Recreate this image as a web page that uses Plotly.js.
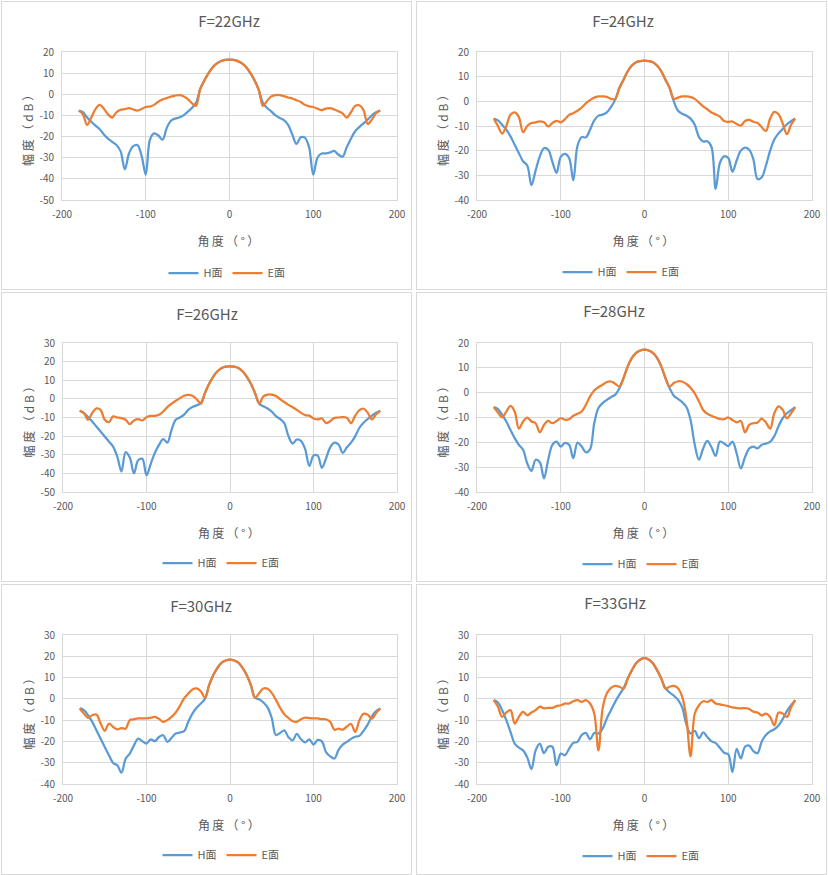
<!DOCTYPE html>
<html><head><meta charset="utf-8">
<script src="https://cdn.plot.ly/plotly-3.0.1.min.js"></script>
<style>
body{margin:0;background:#fff;width:828px;height:875px;position:relative;overflow:hidden;font-family:"Noto Sans CJK SC",sans-serif}
.cell{position:absolute}
.frame{position:absolute;border:1px solid #d9d9d9;box-sizing:border-box;pointer-events:none}
</style></head><body>
<div id="p1" class="cell" style="left:0;top:0;width:414px;height:291px"></div>
<div id="p2" class="cell" style="left:414px;top:0;width:414px;height:291px"></div>
<div id="p3" class="cell" style="left:0;top:291px;width:414px;height:291px"></div>
<div id="p4" class="cell" style="left:414px;top:291px;width:414px;height:291px"></div>
<div id="p5" class="cell" style="left:0;top:582px;width:414px;height:293px"></div>
<div id="p6" class="cell" style="left:414px;top:582px;width:414px;height:293px"></div>
<div class="frame" style="left:1px;top:1px;width:411px;height:289px"></div>
<div class="frame" style="left:416px;top:1px;width:411px;height:289px"></div>
<div class="frame" style="left:1px;top:292px;width:411px;height:290px"></div>
<div class="frame" style="left:416px;top:292px;width:411px;height:290px"></div>
<div class="frame" style="left:1px;top:584px;width:411px;height:291px"></div>
<div class="frame" style="left:416px;top:584px;width:411px;height:291px"></div>
<script>
// angle (deg)
const angles = [-180,-175,-170,-165,-160,-155,-150,-145,-140,-135,-130,-125,-120,-115,-110,-105,-100,-95,-90,-85,-80,-75,-70,-65,-60,-55,-50,-45,-40,-35,-30,-25,-20,-15,-10,-5,0,5,10,15,20,25,30,35,40,45,50,55,60,65,70,75,80,85,90,95,100,105,110,115,120,125,130,135,140,145,150,155,160,165,170,175,180];

const seriesNames = ['H面','E面'];
const titles = ['F=22GHz','F=24GHz','F=26GHz','F=28GHz','F=30GHz','F=33GHz'];
const xAxisTitle = '角度（°）';
const yAxisTitle = '幅度（dB）';
const xTickVals = [-200,-100,0,100,200];
const xTickText = ['-200','-100','0','100','200'];
const yTicks50_20 = [-50,-40,-30,-20,-10,0,10,20];
const yTicks40_20 = [-40,-30,-20,-10,0,10,20];
const yTicks50_30 = [-50,-40,-30,-20,-10,0,10,20,30];
const yTicks40_30 = [-40,-30,-20,-10,0,10,20,30];

const h22 = [-7.7,-8.5,-11,-13,-14.8,-16.5,-19,-21,-22.5,-24,-27,-35.5,-28,-24.5,-24,-29,-38,-21.5,-18.5,-19.5,-21.5,-16,-12.5,-11.5,-11,-10,-8.3,-6.5,-4,2.5,6.5,10,12.8,14.6,15.7,16.3,16.4,
 16.3,15.7,14.6,12.8,10,6.5,2,-4.2,-6.5,-8.2,-10,-11.2,-12.2,-14.5,-19,-23.5,-20.3,-20.5,-25,-38,-30,-28,-28,-27.5,-26.8,-28.5,-29.5,-25,-21,-17.5,-15.5,-13.8,-12,-10,-8.5,-7.7];
const e22 = [-7.7,-9.5,-14.5,-11,-7,-5,-6.8,-9.5,-11,-8.5,-7.3,-7,-6.6,-7.2,-7.7,-7,-6,-5.8,-5,-3.5,-2.5,-1.8,-1.1,-0.6,-0.4,-0.9,-2.2,-4.2,-5.5,2.5,6.5,10,12.8,14.6,15.7,16.3,16.4,
 16.3,15.7,14.6,12.8,10,6.5,2,-5.5,-3,-1,-0.4,-0.4,-0.9,-1.5,-2,-2.8,-3.6,-5,-5.7,-6,-6.8,-7.5,-6.8,-6.6,-7.2,-8,-9,-11,-8.5,-5.5,-5.2,-7.5,-14,-12,-9,-7.7];

const h24 = [-7,-7.7,-9.5,-11.5,-14.2,-17.6,-21,-24.3,-26,-34,-28,-22.3,-19,-19.6,-24.5,-29,-22.5,-21.3,-23,-32,-18,-14.5,-14.6,-11.5,-7.7,-5.8,-5.4,-4.5,-2.3,0.7,5.4,8.8,12.2,14.5,15.8,16.3,16.5,
 16.3,15.8,14.5,12.2,8.8,5.4,0,-3.8,-5,-5.8,-7,-9.5,-14.5,-16.3,-16.2,-18.5,-35.5,-25,-22.3,-23,-28.5,-24,-20,-18.8,-19.6,-23.5,-31.5,-30.8,-26,-20,-15.5,-13,-11.2,-9.3,-8,-7];
const e24 = [-7,-10,-13.1,-10,-5.4,-4.5,-6.4,-12.5,-10,-8.8,-8.5,-8.1,-8.5,-10.2,-8.8,-7.9,-8.5,-7.3,-5.5,-4.8,-3.8,-2.5,-0.8,0.5,1.5,2,2,1.8,1,1,5.4,8.8,12.2,14.5,15.8,16.3,16.5,
 16.3,15.8,14.5,12.2,8.8,5.4,1,1.5,2,2,1.7,1,-0.5,-2,-3.2,-4.5,-5.3,-6.2,-8,-8.3,-8.2,-9.2,-9.8,-8,-7.5,-8.3,-8.8,-10.5,-12,-7,-4.3,-5.2,-9,-13.3,-9.5,-7];

const h26 = [-6.4,-7.6,-9.8,-12.1,-14.8,-17.5,-20.2,-22.9,-25.6,-31,-39,-28.6,-31.5,-40,-33,-32.2,-41,-35,-29,-24.7,-21.6,-23.5,-16.6,-11.2,-10,-8.5,-5.9,-4.4,-3.5,-2.3,3.1,8.1,12,14.8,16.6,17.3,17.5,
 17.3,16.6,14.8,12,8.1,3.1,-2.6,-4,-5.2,-6.8,-9.3,-10.8,-13,-20,-24,-21.8,-22.5,-27,-36,-30.5,-30.5,-37,-32,-26,-23.5,-24.5,-29,-26,-23.5,-20,-15.5,-12.8,-10.8,-9,-7.5,-6.4];
const e26 = [-6.4,-7.6,-11.2,-7.6,-5.1,-5.9,-11.2,-12.5,-9.4,-10,-10.3,-11.2,-13.6,-11.6,-10.9,-11.6,-9.8,-9.1,-9.1,-8.5,-6.8,-4.4,-2.6,-1,0.4,1.7,2.2,1.7,-0.1,-2.6,3.1,8.1,12,14.8,16.6,17.3,17.5,
 17.3,16.6,14.8,12,8.1,3.1,-2.5,1.3,2.3,2.3,1.5,-0.1,-1.7,-3.2,-4.5,-5.9,-7.5,-8.7,-9,-10.5,-11,-10.5,-13,-12,-10.2,-10,-9.8,-10.2,-13,-9,-6,-5.3,-7.5,-11,-8.3,-6.4];

const h28 = [-5.8,-6.6,-8.9,-11.6,-15,-18.3,-21,-23,-28.5,-31.5,-27,-28,-34.5,-27,-21,-19.7,-21.7,-20.2,-21,-26.4,-20.1,-21.7,-24,-22.8,-12.3,-6.2,-4.2,-2.9,-1.8,-0.8,1.8,5.9,10.6,14,16,17,17.3,
 17,16,14,10.6,5.9,1.8,-1.2,-2.5,-3.8,-5.8,-11,-21,-27,-22.5,-19.4,-22,-25.5,-19.7,-20.5,-21.5,-19.7,-24.4,-30.5,-26,-22.5,-21.7,-22.4,-21,-20.5,-19.8,-17.5,-13.5,-10.3,-8.3,-7,-5.8];
const e28 = [-5.8,-8,-9.9,-7.6,-5.3,-7.6,-14.5,-11.6,-10,-11.6,-12.3,-16,-13,-11.4,-12.3,-11.4,-10.3,-10.9,-10.7,-9.3,-8.5,-7.6,-4.9,-1.5,0.9,2.2,3.2,4.3,4.5,3.6,2.5,5.9,10.6,14,16,17,17.3,
 17,16,14,10.6,5.9,2.5,3.9,4.6,4.5,3.5,2,-0.3,-3.5,-7,-8.5,-9.3,-10,-10.6,-10.7,-10,-11,-12,-11.4,-16,-13,-12.3,-12,-10.5,-12,-14.5,-8.3,-5.5,-6.9,-10.3,-8.3,-5.8];

const h30 = [-4.5,-5.3,-7.7,-10.8,-14.7,-18.7,-22.6,-26.5,-30.1,-31.2,-34.7,-28.1,-25.7,-21.8,-18.7,-19.9,-21,-19,-19.9,-17.9,-17.1,-20.2,-18.3,-16.3,-15.8,-15.2,-10.8,-6.9,-4.2,-2.2,0,6.4,11.2,14.6,17,18,18.4,
 18,17,14.6,11.2,6.4,0.5,-0.2,-1.7,-4,-9,-17,-16,-14.8,-18,-19.5,-16.5,-19,-20.5,-19,-21.5,-19.3,-20,-25,-27,-28,-24,-21.5,-20.2,-18.8,-17.8,-17.4,-15,-12,-8.2,-5.8,-4.5];
const e30 = [-4.5,-6.9,-8.9,-7.7,-7.4,-11.5,-15,-11.6,-13.2,-14.3,-13.7,-14,-10,-9.6,-9.2,-9.2,-9.2,-8.9,-8.5,-9.4,-10.8,-10,-8.5,-6.4,-3.3,0.2,2.5,4.4,4.9,3.6,0.5,6.4,11.2,14.6,17,18,18.4,
 18,17,14.6,11.2,6.4,0.5,2.8,4.9,4.7,2.8,-0.5,-4.2,-7.2,-9,-10.5,-10.8,-9.6,-8.8,-9.1,-9.2,-9.2,-9.5,-9.6,-10.8,-14.5,-14,-14.5,-13,-11.8,-15.5,-10,-7,-7.5,-9.3,-6.6,-4.5];

const h33 = [-0.6,-1.7,-5.3,-10,-15.5,-21,-22.9,-24.2,-27.5,-33,-24.2,-21,-25.5,-22.5,-22.5,-31.2,-25.7,-26.5,-23.4,-20.7,-20.2,-17,-16,-19,-16,-16.3,-13.9,-9.2,-5.3,-1.4,2,5,9.6,13.5,16.7,18.5,19.3,
 18.5,16.7,13.5,9.6,5,3,1.5,-0.5,-4,-12,-16.3,-15,-18.5,-15.8,-17.9,-20,-20.8,-23,-25.3,-26,-34.4,-23.5,-28,-22.5,-22,-24.5,-25.5,-20,-17,-15.3,-14.3,-12.5,-9.5,-5.8,-3,-0.6];
const e33 = [-0.6,-3.7,-8.5,-6.4,-5.3,-11.6,-8.5,-6.1,-7.7,-6.4,-5.3,-3.7,-4.5,-4.2,-4.2,-3.4,-3,-2.2,-2.2,-1.1,-0.6,-1.4,-0.6,-2.2,-6.9,-24.2,-4.5,2.5,5.2,6.1,5.7,4.8,9.6,13.5,16.7,18.5,19.3,
 18.5,16.7,13.5,9.6,4.8,5.7,6.1,5,1,-9,-27,-7,-3,-1.1,-1.4,-0.6,-2.2,-2.6,-3,-3.4,-4,-4.3,-4.5,-4.3,-4.8,-6,-6.4,-7.8,-6.9,-8.5,-12.5,-6.5,-6.9,-8.5,-4,-0.6];

const hSeries = [h22,h24,h26,h28,h30,h33];
const eSeries = [e22,e24,e26,e28,e30,e33];
const yTickSets = [yTicks50_20,yTicks40_20,yTicks50_30,yTicks40_20,yTicks40_30,yTicks40_30];

// layout geometry per panel (pixels inside each cell)
const geom = [
 {id:'p1',W:414,H:291,l:62,r:17,t:52,b:91,tx:229,ty:22,lx:227,ly:273},
 {id:'p2',W:414,H:291,l:63,r:16,t:52,b:91,tx:209,ty:22,lx:207,ly:272},
 {id:'p3',W:414,H:291,l:63,r:17,t:52,b:90,tx:207,ty:24,lx:221,ly:272},
 {id:'p4',W:414,H:291,l:63,r:16,t:52,b:90,tx:200,ty:21,lx:227,ly:273},
 {id:'p5',W:414,H:293,l:63,r:17,t:53,b:91,tx:201,ty:25,lx:221,ly:273},
 {id:'p6',W:414,H:293,l:63,r:16,t:53,b:91,tx:201,ty:22,lx:227,ly:274}
];

const FONT = '"Noto Sans CJK SC", "Noto Sans", sans-serif';
const TXT = '#595959';
const GRID = '#d9d9d9';
const COLORS = ['#5B9BD5','#ED7D31'];
const spaced = function(s, ls){ return '<span style="letter-spacing:' + ls + 'px">' + s + '</span>'; };

geom.forEach(function(g, i){
  const yt = yTickSets[i];
  const traces = [hSeries[i], eSeries[i]].map(function(vals, k){
    return {
      x: angles, y: vals, type:'scatter', mode:'lines', name: seriesNames[k],
      line:{color:COLORS[k], width:2.25, shape:'spline', smoothing:1},
      hoverinfo:'skip'
    };
  });
  const layout = {
    width:g.W, height:g.H,
    margin:{l:g.l, r:g.r, t:g.t, b:g.b, pad:0},
    paper_bgcolor:'rgba(0,0,0,0)', plot_bgcolor:'#ffffff',
    font:{family:FONT, color:TXT, size:10},
    showlegend:true,
    title:{text:titles[i], font:{family:FONT, size:15, color:TXT},
      xref:'container', x:g.tx/g.W, xanchor:'center',
      yref:'container', y:1-g.ty/g.H, yanchor:'middle'},
    xaxis:{range:[-200,200], tickvals:xTickVals, ticktext:xTickText,
      showgrid:true, gridcolor:GRID, gridwidth:1, zeroline:false,
      showline:true, linecolor:GRID, linewidth:1, mirror:true,
      ticks:'', ticklabelstandoff:5, tickfont:{size:10, color:TXT, family:FONT},
      title:{text:spaced(xAxisTitle, 2.3), font:{size:12, color:TXT, family:FONT}, standoff:17},
      fixedrange:true, automargin:false},
    yaxis:{range:[yt[0], yt[yt.length-1]], tickvals:yt, ticktext:yt.map(String),
      showgrid:true, gridcolor:GRID, gridwidth:1, zeroline:false,
      showline:true, linecolor:GRID, linewidth:1, mirror:true,
      ticks:'', ticklabelstandoff:5, tickfont:{size:10, color:TXT, family:FONT},
      title:{text:spaced(yAxisTitle, 2.8), font:{size:12, color:TXT, family:FONT}, standoff:3},
      fixedrange:true, automargin:false},
    legend:{orientation:'h', xref:'container', x:g.lx/g.W, xanchor:'center',
      yref:'container', y:1-g.ly/g.H, yanchor:'middle',
      font:{size:11, color:TXT, family:FONT}, itemwidth:30, tracegroupgap:0,
      bgcolor:'rgba(0,0,0,0)'}
  };
  Plotly.newPlot(g.id, traces, layout, {staticPlot:true, displayModeBar:false});
});
</script>
</body></html>
